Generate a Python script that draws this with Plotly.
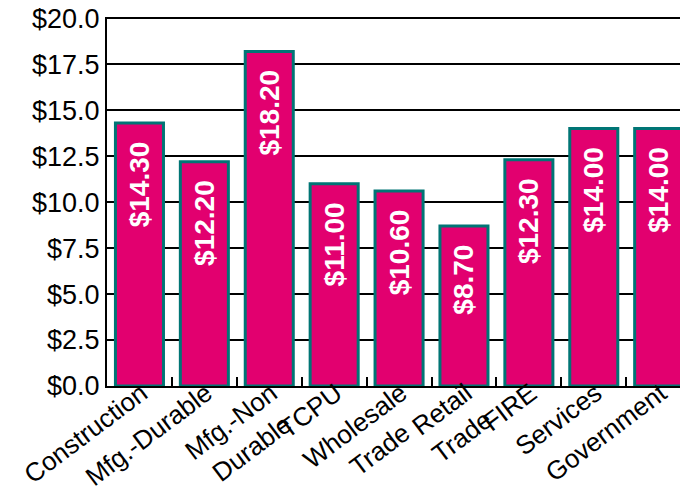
import plotly.graph_objects as go

categories = ["Construction", "Mfg.-Durable", "Mfg.-Non Durable", "TCPU",
              "Wholesale Trade", "Retail Trade", "FIRE", "Services", "Government"]
tick_labels = ["Construction", "Mfg.-Durable", "Mfg.-Non<br>Durable\u00a0", "TCPU",
               "Wholesale<br>Trade\u00a0\u00a0\u00a0", "Retail<br>Trade", "FIRE", "Services", "Government"]
values = [14.30, 12.20, 18.20, 11.00, 10.60, 8.70, 12.30, 14.00, 14.00]
labels = [f"${v:.2f}\u00a0\u00a0" for v in values]
y_ticks = [0, 2.5, 5, 7.5, 10, 12.5, 15, 17.5, 20]
y_tick_text = [f"${v:.1f}" for v in y_ticks]

fig = go.Figure(go.Bar(
    x=categories,
    y=values,
    text=labels,
    textposition="inside",
    insidetextanchor="end",
    textangle=-90,
    constraintext="none",
    insidetextfont=dict(color="white", size=28, family="Liberation Sans", weight="bold"),
    marker=dict(color="#E2006F", line=dict(color="#007575", width=3)),
    width=0.74,
    cliponaxis=False,
))

fig.update_layout(
    width=688, height=494,
    margin=dict(l=99, r=0, t=9, b=116),
    paper_bgcolor="white", plot_bgcolor="white",
    font=dict(family="Liberation Sans", color="black"),
    showlegend=False,
    xaxis=dict(
        range=[-0.5, 8.575],
        tickmode="array", tickvals=categories, ticktext=tick_labels,
        tickangle=-37,
        tickfont=dict(size=26, color="black"),
        ticklabelstandoff=-20,
        ticklabelshift=2,
        showline=True, linecolor="black", linewidth=2,
        ticks="inside", tickson="boundaries", ticklen=9, tickwidth=2, tickcolor="black",
        showgrid=False, automargin=False,
    ),
    yaxis=dict(
        range=[0, 20.07],
        tickvals=y_ticks,
        ticktext=y_tick_text,
        ticklabeloverflow="allow",
        tickfont=dict(size=27, color="black"),
        showline=True, linecolor="black", linewidth=2,
        showgrid=True, gridcolor="black", gridwidth=2,
        zeroline=False, ticks="", automargin=False,
    ),
)

fig.write_html("out.html")
